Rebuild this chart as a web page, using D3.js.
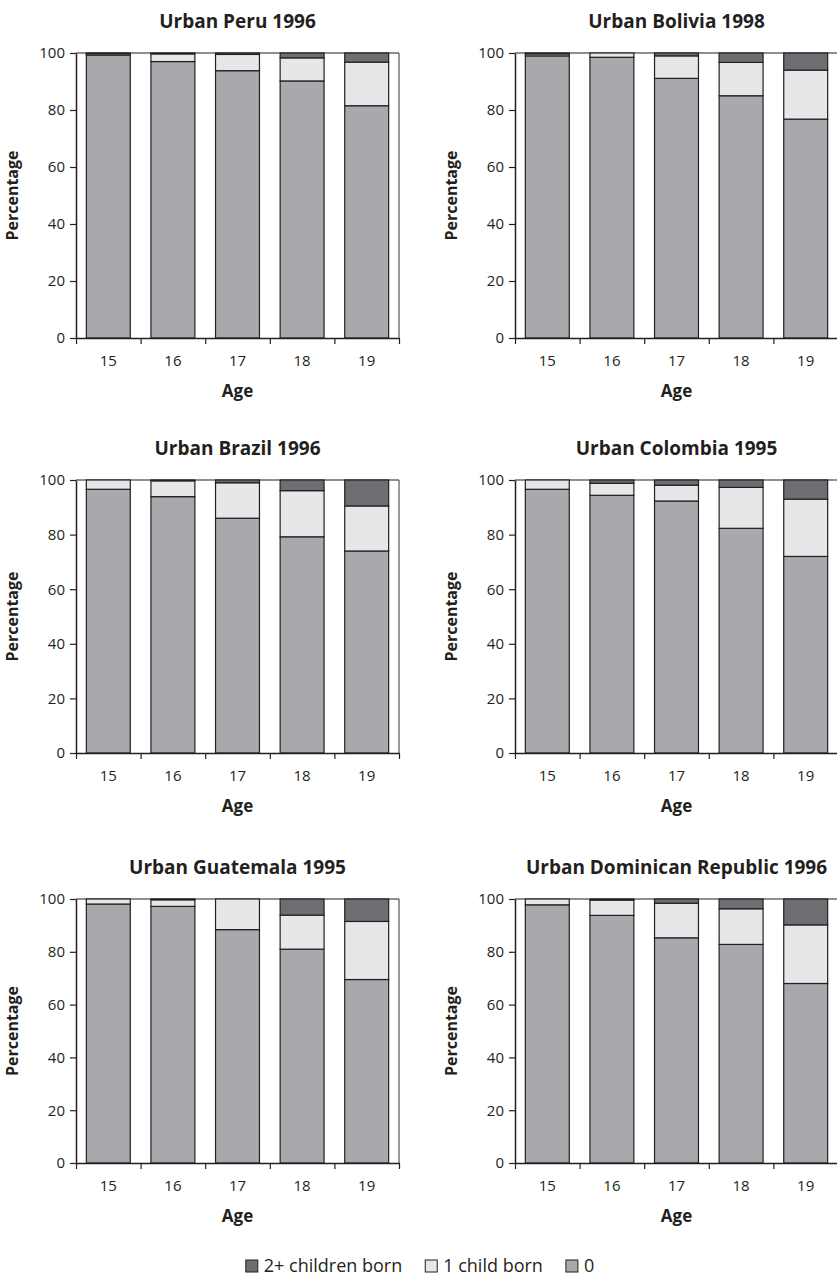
<!DOCTYPE html>
<html>
<head>
<meta charset="utf-8">
<script src="https://cdn.jsdelivr.net/npm/d3@7"></script>
<style>
  html, body { margin: 0; padding: 0; background: #fff; }
  svg { display: block; }
  text { font-family: "Open Sans", "Noto Sans", sans-serif; fill: #231f20; }
</style>
</head>
<body>
<svg id="chart" width="837" height="1279"></svg>
<script>
// ---- data ----
const ages = ["15", "16", "17", "18", "19"];
const yTicks = [0, 20, 40, 60, 80, 100];
const titles = ["Urban Peru 1996", "Urban Bolivia 1998", "Urban Brazil 1996",
                "Urban Colombia 1995", "Urban Guatemala 1995", "Urban Dominican Republic 1996"];
const seriesNames = ["2+ children born", "1 child born", "0"];

const peruZero = [99.3, 97.0, 93.8, 90.2, 81.5];
const peruOne  = [0.5, 2.7, 5.7, 8.1, 15.3];
const peruTwo  = [0.2, 0.3, 0.5, 1.7, 3.2];

const boliviaZero = [99.0, 98.5, 91.1, 85.0, 76.8];
const boliviaOne  = [0.7, 1.5, 7.9, 11.7, 17.2];
const boliviaTwo  = [0.3, 0.0, 1.0, 3.3, 6.0];

const brazilZero = [96.6, 93.9, 86.0, 79.2, 74.0];
const brazilOne  = [3.4, 5.8, 13.0, 16.9, 16.5];
const brazilTwo  = [0.0, 0.3, 1.0, 3.9, 9.5];

const colombiaZero = [96.6, 94.4, 92.3, 82.3, 72.0];
const colombiaOne  = [3.4, 4.4, 5.8, 15.0, 21.0];
const colombiaTwo  = [0.0, 1.2, 1.9, 2.7, 7.0];

const guatemalaZero = [98.1, 97.2, 88.4, 81.0, 69.5];
const guatemalaOne  = [1.9, 2.5, 11.6, 12.9, 22.0];
const guatemalaTwo  = [0.0, 0.3, 0.0, 6.1, 8.5];

const dominicanZero = [97.8, 93.8, 85.3, 82.8, 68.0];
const dominicanOne  = [2.2, 5.8, 13.1, 13.5, 22.2];
const dominicanTwo  = [0.0, 0.4, 1.6, 3.7, 9.8];

const panelSeries = [
  [peruZero, peruOne, peruTwo],
  [boliviaZero, boliviaOne, boliviaTwo],
  [brazilZero, brazilOne, brazilTwo],
  [colombiaZero, colombiaOne, colombiaTwo],
  [guatemalaZero, guatemalaOne, guatemalaTwo],
  [dominicanZero, dominicanOne, dominicanTwo]
];

// ---- styling / layout ----
const colorZero = "#a7a9ac", colorOne = "#e6e7e8", colorTwo = "#6d6e71";
const ink = "#231f20";
const colX = [76, 515];
const plotW = 323;
const rowTop = [53, 480, 899];
const rowBottom = [338, 753, 1163];

const svg = d3.select("#chart");
const keys = ["zero", "one", "two"];
const fills = { zero: colorZero, one: colorOne, two: colorTwo };

titles.forEach((title, i) => {
  const col = i % 2, row = Math.floor(i / 2);
  const x0 = colX[col], x1 = x0 + plotW;
  const top = rowTop[row], bottom = rowBottom[row];
  const [z, o, t] = panelSeries[i];

  const x = d3.scaleBand().domain(ages).range([x0, x1]).paddingInner(0.32).paddingOuter(0.16);
  const xEdge = d3.scaleLinear().domain([0, ages.length]).range([x0, x1]);
  const y = d3.scaleLinear().domain([0, 100]).range([bottom, top]);

  const rows = ages.map((a, k) => ({ age: a, zero: z[k], one: o[k], two: t[k] }));
  const stacked = d3.stack().keys(keys)(rows);

  const g = svg.append("g");

  // frame top & right
  g.append("line").attr("x1", x0).attr("x2", x1).attr("y1", top).attr("y2", top)
    .attr("stroke", ink).attr("stroke-width", 1.2);
  g.append("line").attr("x1", x1).attr("x2", x1).attr("y1", top).attr("y2", bottom)
    .attr("stroke", "#555").attr("stroke-width", 1.2);

  // bars
  stacked.forEach(layer => {
    g.append("g").selectAll("rect").data(layer).join("rect")
      .attr("x", d => x(d.data.age))
      .attr("width", x.bandwidth())
      .attr("y", d => y(d[1]))
      .attr("height", d => Math.max(0, y(d[0]) - y(d[1])))
      .attr("fill", fills[layer.key])
      .attr("stroke", ink)
      .attr("stroke-width", 1.2);
  });

  // y axis
  const ya = g.append("g").attr("transform", `translate(${x0},0)`)
    .call(d3.axisLeft(y).tickValues(yTicks).tickSize(6).tickPadding(5).tickSizeOuter(0));
  ya.select(".domain").attr("stroke", ink).attr("stroke-width", 1.5);
  ya.selectAll(".tick line").attr("stroke", ink).attr("stroke-width", 1.2);
  ya.selectAll(".tick text").attr("font-size", 15).attr("font-family", '"Open Sans", sans-serif').attr("fill", ink);

  // x axis: tick marks at band edges
  const xe = g.append("g").attr("transform", `translate(0,${bottom})`)
    .call(d3.axisBottom(xEdge).tickValues(d3.range(ages.length + 1)).tickFormat("").tickSize(6).tickSizeOuter(0));
  xe.select(".domain").attr("stroke", ink).attr("stroke-width", 1.5);
  xe.selectAll(".tick line").attr("stroke", ink).attr("stroke-width", 1.2);
  // x labels
  const xl = g.append("g").attr("transform", `translate(0,${bottom})`)
    .call(d3.axisBottom(x).tickSize(0).tickPadding(17));
  xl.select(".domain").remove();
  xl.selectAll(".tick text").attr("font-size", 15).attr("font-family", '"Open Sans", sans-serif').attr("fill", ink);

  // titles
  g.append("text").attr("x", (x0 + x1) / 2).attr("y", top - 25)
    .attr("text-anchor", "middle").attr("font-size", 19).attr("font-weight", "bold").text(title);
  g.append("text").attr("x", (x0 + x1) / 2).attr("y", bottom + 59)
    .attr("text-anchor", "middle").attr("font-size", 17).attr("font-weight", "bold").text("Age");
  g.append("text").attr("transform", `translate(${x0 - 58},${(top + bottom) / 2}) rotate(-90)`)
    .attr("text-anchor", "middle").attr("font-size", 16).attr("font-weight", "bold").text("Percentage");
});

// legend
const legendFills = [colorTwo, colorOne, colorZero];
const lg = svg.append("g");
let cx = 0;
seriesNames.forEach((name, i) => {
  const item = lg.append("g").attr("transform", `translate(${cx},0)`);
  item.append("rect").attr("x", 0).attr("y", -12).attr("width", 12).attr("height", 12)
    .attr("fill", legendFills[i]).attr("stroke", ink).attr("stroke-width", 1);
  const t = item.append("text").attr("x", 18).attr("y", 0).attr("font-size", 18).text(name);
  cx += 18 + t.node().getComputedTextLength() + 23;
});
const legendW = cx - 23;
lg.attr("transform", `translate(${420 - legendW / 2},1272)`);
</script>
</body>
</html>
